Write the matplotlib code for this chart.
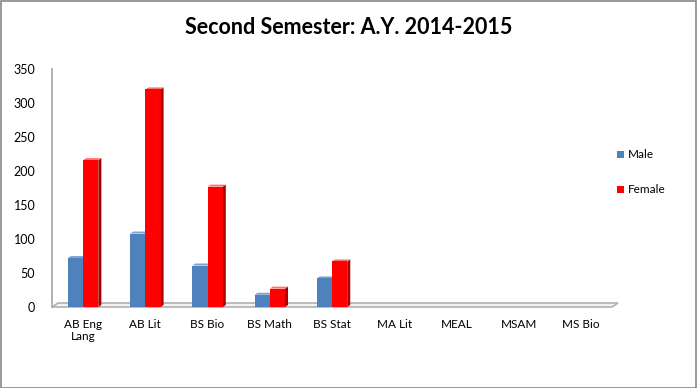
import matplotlib
matplotlib.use("Agg")
import matplotlib.pyplot as plt
from matplotlib.patches import Polygon, Rectangle
import numpy as np

categories = ["AB Eng\nLang", "AB Lit", "BS Bio", "BS Math", "BS Stat",
              "MA Lit", "MEAL", "MSAM", "MS Bio"]
male = [72, 108, 61, 18, 42, 0, 0, 0, 0]
female = [216, 320, 177, 27, 67, 0, 0, 0, 0]
yticks = [0, 50, 100, 150, 200, 250, 300, 350]
title = "Second Semester: A.Y. 2014-2015"

plt.rcParams['font.family'] = ['Lato', 'DejaVu Sans']

W, H = 697, 388
fig = plt.figure(figsize=(W / 100, H / 100), dpi=100)
ax = fig.add_axes([52 / W, 1 - 307 / H, 560 / W, 238 / H])

n = len(categories)
x = np.arange(n)
bw = 0.245
ax.set_xlim(-0.5, n - 0.5)
ax.set_ylim(0, 350)

# pixel -> data conversions for 3D depth effect
px_x = (n) / 560.0
px_y = 350 / 238.0
dx, dy = 3 * px_x, 2 * px_y

# floor
floor_col = "#b0b0b0"
ax.add_patch(Polygon([(-0.5, 0), (n - 0.5, 0), (n - 0.5 + 2 * dx, 2 * dy), (-0.5 + 2 * dx, 2 * dy)],
                     closed=True, facecolor="#f2f2f2", edgecolor=floor_col, lw=1.2, zorder=1,
                     clip_on=False))

def draw_bars(xs, vals, face, side, top):
    for xi, v in zip(xs, vals):
        if v <= 0:
            continue
        l, r = xi - bw / 2, xi + bw / 2
        ax.add_patch(Polygon([(r, 0), (r + dx, dy), (r + dx, v + dy), (r, v)], closed=True,
                             facecolor=side, edgecolor='none', zorder=3))
        ax.add_patch(Polygon([(l, v), (l + dx, v + dy), (r + dx, v + dy), (r, v)], closed=True,
                             facecolor=top, edgecolor='none', zorder=3))
        ax.add_patch(Rectangle((l, 0), bw, v, facecolor=face, edgecolor='none', zorder=4))

draw_bars(x - bw / 2, male, "#4f81bd", "#385d8a", "#7ea3d3")
draw_bars(x + bw / 2, female, "#ff0000", "#a80000", "#ff7070")

for s in ["top", "right", "bottom"]:
    ax.spines[s].set_visible(False)
ax.spines["left"].set_color("#a6a6a6")
ax.spines["left"].set_linewidth(1.2)

ax.set_yticks(yticks)
ax.set_yticklabels([str(v) for v in yticks], fontsize=9)
ax.tick_params(axis='y', length=0, pad=12)
ax.set_xticks(x)
ax.set_xticklabels(categories, fontsize=8.5, linespacing=1.1, va='top')
ax.tick_params(axis='x', length=0, pad=9)

fig.text(0.5, 1 - 28 / H, title, ha='center', va='center', fontsize=15.5, fontweight='bold')

# legend
fig.patches.append(Rectangle((617 / W, 1 - 158 / H), 7 / W, 7 / H, transform=fig.transFigure,
                             facecolor="#4f81bd", edgecolor='none'))
fig.text(628 / W, 1 - 154.5 / H, "Male", fontsize=8.5, va='center', ha='left')
fig.patches.append(Rectangle((617 / W, 1 - 193 / H), 7 / W, 7 / H, transform=fig.transFigure,
                             facecolor="#ff0000", edgecolor='none'))
fig.text(628 / W, 1 - 189.5 / H, "Female", fontsize=8.5, va='center', ha='left')

# border
fig.patches.append(Rectangle((0.5 / W, 0.5 / H), 1 - 1.5 / W, 1 - 1.5 / H, transform=fig.transFigure,
                             facecolor='none', edgecolor="#888888", lw=1.2))

fig.savefig("out.png", dpi=100)
